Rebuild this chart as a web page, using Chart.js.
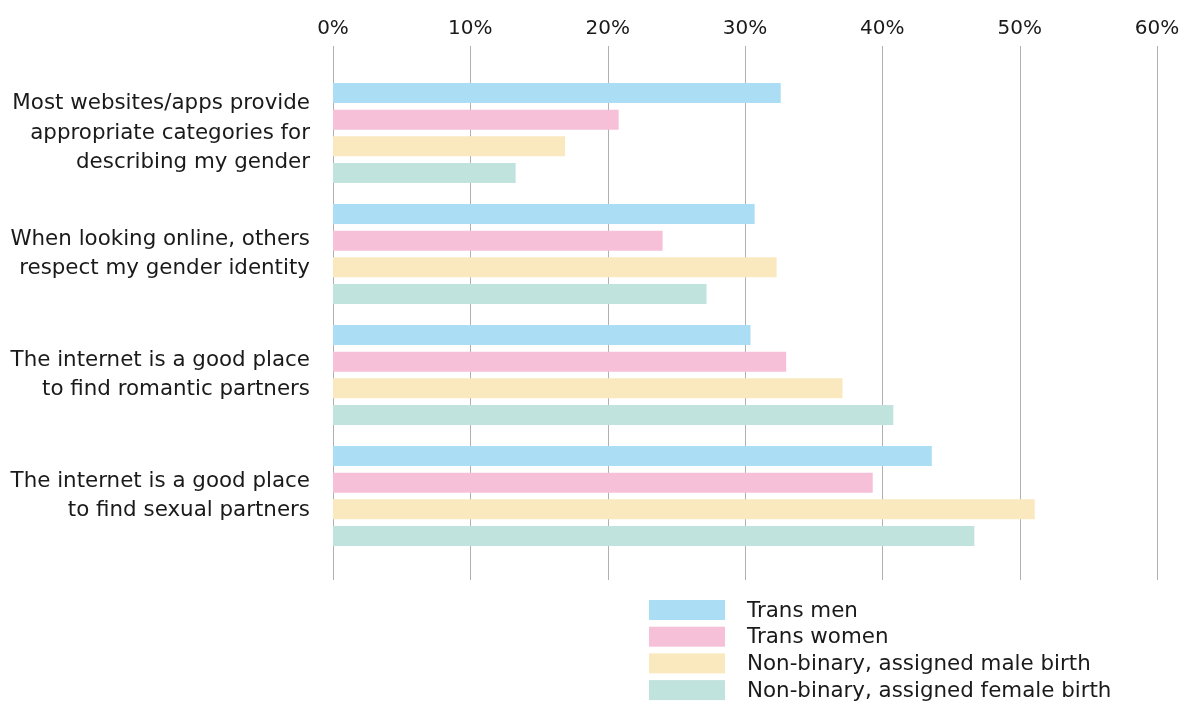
<!DOCTYPE html>
<html>
<head>
<meta charset="utf-8">
<script src="https://cdn.jsdelivr.net/npm/chart.js@4"></script>
<style>
  html, body { margin: 0; padding: 0; background: #fff; }
  #wrap { width: 1191px; height: 702px; position: relative; }
</style>
</head>
<body>
<div id="wrap"><canvas id="c" width="1191" height="702"></canvas></div>
<script>
const categories = [
  ["Most websites/apps provide", "appropriate categories for", "describing my gender"],
  ["When looking online, others", "respect my gender identity"],
  ["The internet is a good place", "to find romantic partners"],
  ["The internet is a good place", "to find sexual partners"]
];
const seriesNames = [
  "Trans men",
  "Trans women",
  "Non-binary, assigned male birth",
  "Non-binary, assigned female birth"
];
const transMen = [32.6, 30.7, 30.4, 43.6];
const transWomen = [20.8, 24.0, 33.0, 39.3];
const nbMale = [16.9, 32.3, 37.1, 51.1];
const nbFemale = [13.3, 27.2, 40.8, 46.7];
const xTicks = [0, 10, 20, 30, 40, 50, 60];

const colors = ["#ABDDF5", "#F6C0D9", "#FAE9BE", "#C1E3DD"];
const FONT = "'DejaVu Sans', sans-serif";
const FS = 21.4;
const TICK_FS = 20;
const TEXT = "#1a1a1a";

const gridPlugin = {
  id: 'extGrid',
  beforeDatasetsDraw(chart) {
    const ctx = chart.ctx;
    const xs = chart.scales.x;
    ctx.save();
    ctx.strokeStyle = '#b0b0b0';
    ctx.lineWidth = 1;
    xTicks.forEach(v => {
      const px = Math.round(xs.getPixelForValue(v)) + 0.5;
      ctx.beginPath();
      ctx.moveTo(px, 46);
      ctx.lineTo(px, 580);
      ctx.stroke();
    });
    ctx.restore();
  }
};

const legendPlugin = {
  id: 'customLegend',
  afterDraw(chart) {
    const ctx = chart.ctx;
    ctx.save();
    ctx.font = FS + "px " + FONT;
    ctx.textBaseline = 'middle';
    ctx.textAlign = 'left';
    chart.data.datasets.forEach((ds, i) => {
      const y = 600 + i * 26.7;
      ctx.fillStyle = ds.backgroundColor;
      ctx.fillRect(649, y, 76, 20);
      ctx.fillStyle = TEXT;
      ctx.fillText(ds.label, 747, y + 11);
    });
    ctx.restore();
  }
};

const datasets = [transMen, transWomen, nbMale, nbFemale].map((vals, i) => ({
  label: seriesNames[i],
  data: vals,
  backgroundColor: colors[i],
  borderWidth: 0,
  barPercentage: 0.75,
  categoryPercentage: 0.88
}));

new Chart(document.getElementById('c'), {
  type: 'bar',
  data: { labels: categories, datasets },
  options: {
    indexAxis: 'y',
    responsive: false,
    animation: false,
    devicePixelRatio: 1,
    layout: { padding: { left: 0, right: 34, top: 0, bottom: 145.5 } },
    plugins: { legend: { display: false }, tooltip: { enabled: false } },
    scales: {
      x: {
        position: 'top',
        min: 0, max: 60,
        afterBuildTicks(scale) { scale.ticks = xTicks.map(v => ({ value: v })); },
        afterFit(scale) { scale.height = 72.5; scale.paddingRight = 0; scale.paddingLeft = 0; },
        grid: { display: false, drawTicks: false },
        border: { display: false },
        ticks: {
          padding: 32,
          color: TEXT,
          font: { family: FONT, size: TICK_FS },
          callback: v => v + '%'
        }
      },
      y: {
        afterFit(scale) { scale.width = 333; },
        grid: { display: false, drawTicks: false },
        border: { display: false },
        ticks: {
          padding: 23,
          color: TEXT,
          font: { family: FONT, size: FS, lineHeight: 1.36 }
        }
      }
    }
  },
  plugins: [gridPlugin, legendPlugin]
});
</script>
</body>
</html>
